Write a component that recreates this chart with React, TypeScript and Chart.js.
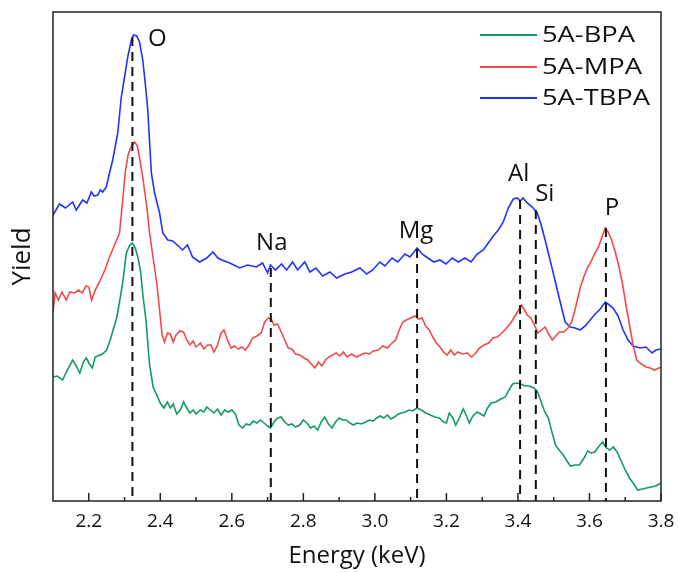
import React, { useEffect, useRef } from "react";
import { Chart, registerables } from "chart.js";

Chart.register(...registerables);

// ---- spectra (energy in keV, yield in arbitrary units) ----
const bpaEnergy = [
  2.1, 2.112, 2.127, 2.14, 2.155, 2.165, 2.175, 2.185, 2.193, 2.202, 2.21, 2.218, 2.225, 2.238, 2.25, 2.26, 2.268, 2.278,
  2.287, 2.296, 2.305, 2.315, 2.322, 2.33, 2.338, 2.345, 2.352, 2.36, 2.37, 2.38, 2.39, 2.4, 2.41, 2.42, 2.428, 2.436,
  2.446, 2.456, 2.465, 2.474, 2.483, 2.492, 2.5, 2.512, 2.522, 2.53, 2.54, 2.55, 2.56, 2.57, 2.58, 2.59, 2.6, 2.61, 2.62,
  2.63, 2.64, 2.65, 2.66, 2.67, 2.68, 2.69, 2.7, 2.708, 2.718, 2.728, 2.738, 2.748, 2.758, 2.768, 2.778, 2.79, 2.8, 2.81,
  2.82, 2.83, 2.84, 2.85, 2.86, 2.87, 2.88, 2.89, 2.9, 2.91, 2.92, 2.93, 2.94, 2.95, 2.962, 2.975, 2.985, 2.995, 3.005,
  3.015, 3.025, 3.035, 3.045, 3.055, 3.065, 3.075, 3.085, 3.095, 3.105, 3.118, 3.13, 3.142, 3.155, 3.168, 3.18, 3.192,
  3.2, 3.208, 3.218, 3.226, 3.236, 3.247, 3.255, 3.264, 3.274, 3.286, 3.296, 3.305, 3.315, 3.325, 3.338, 3.352, 3.365,
  3.375, 3.385, 3.396, 3.408, 3.42, 3.432, 3.445, 3.455, 3.465, 3.475, 3.485, 3.495, 3.505, 3.515, 3.525, 3.535, 3.547,
  3.56, 3.572, 3.585, 3.595, 3.605, 3.615, 3.627, 3.637, 3.647, 3.657, 3.667, 3.677, 3.69, 3.7, 3.712, 3.724, 3.735,
  3.748, 3.76, 3.772, 3.785, 3.8,
];
const bpaYield = [
  124, 125, 121, 131, 141, 135, 128, 139, 143, 137, 133, 144, 145, 147, 151, 161, 171, 183,
  201, 221, 248, 256, 258, 253, 243, 229, 204, 181, 136, 114, 106, 98, 93, 99, 93, 97,
  87, 91, 99, 93, 88, 91, 87, 91, 89, 94, 91, 88, 92, 86, 91, 89, 91, 87, 76,
  73, 77, 76, 80, 78, 81, 78, 75, 73, 79, 83, 84, 79, 76, 77, 74, 76, 81, 78,
  73, 75, 71, 79, 84, 77, 73, 79, 83, 81, 81, 78, 76, 78, 77, 79, 81, 80, 83,
  85, 83, 86, 82, 84, 87, 88, 89, 91, 90, 93, 91, 88, 86, 84, 83, 79,
  78, 88, 83, 76, 83, 92, 86, 78, 85, 89, 87, 85, 93, 98, 99, 102, 104,
  111, 117, 118, 117, 115, 115, 113, 109, 99, 89, 83, 69, 56, 51, 47, 41, 35,
  36, 36, 43, 50, 48, 49, 55, 59, 53, 51, 54, 49, 39, 31, 23, 17, 11,
  12, 13, 14, 15, 18,
];

const mpaEnergy = [
  2.1, 2.106, 2.115, 2.125, 2.137, 2.147, 2.16, 2.172, 2.182, 2.192, 2.2, 2.208, 2.218, 2.23, 2.245, 2.258, 2.272, 2.286,
  2.295, 2.302, 2.31, 2.318, 2.328, 2.336, 2.343, 2.35, 2.357, 2.364, 2.37, 2.38, 2.39, 2.398, 2.405, 2.412, 2.42, 2.428,
  2.436, 2.444, 2.455, 2.465, 2.474, 2.483, 2.492, 2.5, 2.512, 2.522, 2.532, 2.542, 2.55, 2.56, 2.57, 2.578, 2.588,
  2.598, 2.608, 2.618, 2.628, 2.638, 2.648, 2.658, 2.67, 2.682, 2.692, 2.702, 2.71, 2.718, 2.728, 2.738, 2.748, 2.758,
  2.768, 2.778, 2.79, 2.802, 2.812, 2.822, 2.832, 2.842, 2.852, 2.862, 2.872, 2.882, 2.892, 2.902, 2.912, 2.922, 2.935,
  2.948, 2.96, 2.972, 2.985, 2.995, 3.01, 3.022, 3.035, 3.045, 3.058, 3.068, 3.078, 3.088, 3.1, 3.112, 3.122, 3.132,
  3.142, 3.152, 3.162, 3.172, 3.182, 3.192, 3.202, 3.212, 3.222, 3.232, 3.245, 3.258, 3.27, 3.28, 3.292, 3.305, 3.318,
  3.33, 3.342, 3.355, 3.368, 3.38, 3.392, 3.402, 3.41, 3.418, 3.426, 3.436, 3.446, 3.456, 3.466, 3.476, 3.486, 3.496,
  3.506, 3.516, 3.528, 3.54, 3.55, 3.558, 3.566, 3.574, 3.584, 3.594, 3.604, 3.614, 3.624, 3.634, 3.644, 3.652, 3.662,
  3.672, 3.682, 3.692, 3.702, 3.712, 3.722, 3.732, 3.745, 3.758, 3.77, 3.782, 3.8,
];
const mpaYield = [
  189, 208, 201, 209, 201, 209, 208, 211, 208, 215, 214, 201, 211, 219, 231, 244, 256, 268,
  301, 329, 346, 354, 359, 355, 341, 326, 308, 289, 268, 243, 218, 191, 166, 159, 168, 167,
  159, 166, 170, 169, 161, 156, 160, 154, 158, 152, 156, 156, 149, 156, 168, 171, 161,
  153, 155, 152, 154, 151, 156, 163, 165, 168, 179, 183, 182, 176, 177, 169, 161, 153,
  152, 147, 146, 143, 141, 137, 133, 139, 135, 141, 144, 146, 148, 145, 149, 144, 147,
  144, 146, 148, 147, 150, 151, 155, 153, 157, 161, 171, 179, 181, 183, 185, 182, 183,
  175, 171, 164, 158, 154, 149, 146, 151, 146, 149, 147, 148, 144, 147, 153, 156, 158,
  163, 164, 168, 173, 178, 185, 191, 196, 191, 186, 183, 176, 168, 171, 174, 167, 161,
  165, 169, 169, 173, 179, 189, 201, 213, 224, 233, 239, 247, 253, 263, 273, 269, 261,
  249, 235, 218, 196, 176, 156, 141, 137, 134, 133, 131, 134,
];

const tbpaEnergy = [
  2.1, 2.118, 2.135, 2.155, 2.165, 2.183, 2.195, 2.207, 2.215, 2.225, 2.232, 2.239, 2.249, 2.258, 2.267, 2.281, 2.286,
  2.291, 2.3, 2.309, 2.319, 2.325, 2.334, 2.342, 2.351, 2.359, 2.365, 2.375, 2.384, 2.398, 2.407, 2.421, 2.435, 2.462,
  2.476, 2.49, 2.51, 2.53, 2.547, 2.561, 2.572, 2.594, 2.622, 2.644, 2.669, 2.686, 2.7, 2.708, 2.722, 2.739, 2.753,
  2.77, 2.784, 2.804, 2.818, 2.835, 2.854, 2.874, 2.893, 2.916, 2.935, 2.958, 2.977, 2.994, 3.014, 3.028, 3.048, 3.064,
  3.084, 3.098, 3.118, 3.132, 3.148, 3.165, 3.182, 3.199, 3.216, 3.233, 3.252, 3.269, 3.286, 3.303, 3.317, 3.331,
  3.345, 3.359, 3.373, 3.387, 3.398, 3.406, 3.414, 3.426, 3.44, 3.454, 3.465, 3.476, 3.487, 3.498, 3.51, 3.521, 3.532,
  3.546, 3.56, 3.574, 3.588, 3.602, 3.616, 3.63, 3.644, 3.652, 3.666, 3.68, 3.694, 3.708, 3.722, 3.742, 3.758, 3.775,
  3.786, 3.8,
];
const tbpaYield = [
  286, 297, 293, 299, 291, 301, 298, 309, 305, 306, 311, 309, 314, 328, 341, 368, 386,
  404, 424, 444, 461, 466, 465, 459, 441, 414, 391, 328, 308, 288, 268, 261, 260, 251,
  256, 244, 239, 243, 249, 243, 241, 238, 233, 236, 234, 238, 228, 236, 231, 237, 231,
  239, 231, 239, 229, 233, 225, 229, 223, 227, 229, 233, 227, 231, 239, 235, 243, 239,
  247, 244, 253, 247, 243, 239, 241, 237, 243, 239, 243, 239, 247, 251, 258, 265,
  271, 279, 293, 302, 303, 300, 303, 298, 294, 288, 276, 261, 245, 229, 211, 195, 179,
  174, 173, 171, 175, 181, 187, 192, 199, 197, 193, 185, 171, 161, 155, 153, 154, 148,
  151, 152,
];

const seriesNames = ["5A-BPA", "5A-MPA", "5A-TBPA"];
const seriesColors = ["#149a62", "#f24a4a", "#2233ff"];

// ---- element lines: position and the yield where each dashed line starts ----
const elementNames = ["O", "Na", "Mg", "Al", "Si", "P"];
const elementEnergy = [2.322, 2.709, 3.118, 3.406, 3.45, 3.646];
const elementTop = [464, 233, 252, 301, 291, 273];
// label placement relative to the top of each line (px)
const elementLabelOffset = [
  [25, 0],
  [1, -27],
  [-1, -20],
  [-1.5, -28],
  [9, -18],
  [6, -22],
];

const energyTicks = [2.2, 2.4, 2.6, 2.8, 3.0, 3.2, 3.4, 3.6, 3.8];
const energyMinorTicks = [2.3, 2.5, 2.7, 2.9, 3.1, 3.3, 3.5, 3.7];

const FONT = "'Open Sans', 'DejaVu Sans', sans-serif";

const decorations = {
  id: "spectrumDecorations",
  afterDatasetsDraw(chart: any) {
    const { ctx, chartArea, scales } = chart;
    const xs = scales.x;
    const ys = scales.y;
    const { left, right, top, bottom } = chartArea;
    ctx.save();

    // element marker lines
    ctx.strokeStyle = "#111";
    ctx.lineWidth = 2;
    ctx.setLineDash([9, 6]);
    elementEnergy.forEach((e, i) => {
      const px = xs.getPixelForValue(e);
      const py = ys.getPixelForValue(elementTop[i]);
      ctx.beginPath();
      ctx.moveTo(px, py);
      ctx.lineTo(px, bottom);
      ctx.stroke();
    });
    ctx.setLineDash([]);

    // element labels
    ctx.fillStyle = "#111";
    ctx.font = `24px ${FONT}`;
    ctx.textAlign = "center";
    ctx.textBaseline = "alphabetic";
    elementNames.forEach((name, i) => {
      const px = xs.getPixelForValue(elementEnergy[i]) + elementLabelOffset[i][0];
      const py = ys.getPixelForValue(elementTop[i]) + elementLabelOffset[i][1];
      ctx.fillText(name, px, py + 0.357 * 24);
    });

    // inward ticks on the energy axis
    ctx.strokeStyle = "#222";
    ctx.lineWidth = 1.5;
    ctx.beginPath();
    energyTicks.forEach((v) => {
      const px = xs.getPixelForValue(v);
      ctx.moveTo(px, bottom);
      ctx.lineTo(px, bottom - 8);
    });
    energyMinorTicks.forEach((v) => {
      const px = xs.getPixelForValue(v);
      ctx.moveTo(px, bottom);
      ctx.lineTo(px, bottom - 4);
    });
    ctx.stroke();

    // frame
    ctx.strokeStyle = "#222";
    ctx.lineWidth = 1.5;
    ctx.strokeRect(left, top, right - left, bottom - top);

    // legend
    const legendX0 = right - 181;
    const legendX1 = right - 124;
    const rowY = [top + 23, top + 55, top + 86];
    seriesNames.forEach((name, i) => {
      ctx.strokeStyle = seriesColors[i];
      ctx.lineWidth = 2;
      ctx.beginPath();
      ctx.moveTo(legendX0, rowY[i]);
      ctx.lineTo(legendX1, rowY[i]);
      ctx.stroke();
      ctx.save();
      ctx.translate(legendX1 + 5, rowY[i] + 0.357 * 21);
      ctx.scale(1.3, 1);
      ctx.fillStyle = "#111";
      ctx.font = `21px ${FONT}`;
      ctx.textAlign = "left";
      ctx.textBaseline = "alphabetic";
      ctx.fillText(name, 0, 0);
      ctx.restore();
    });

    ctx.restore();
  },
};

export default function App() {
  const canvasRef = useRef<HTMLCanvasElement | null>(null);

  useEffect(() => {
    if (!canvasRef.current) return;
    const energies = [bpaEnergy, mpaEnergy, tbpaEnergy];
    const yields = [bpaYield, mpaYield, tbpaYield];
    const chart = new Chart(canvasRef.current, {
      type: "line",
      data: {
        datasets: seriesNames.map((name, s) => ({
          label: name,
          data: energies[s].map((e, i) => ({ x: e, y: yields[s][i] })),
          borderColor: seriesColors[s],
          backgroundColor: seriesColors[s],
          borderWidth: 1.6,
          pointRadius: 0,
          tension: 0,
          fill: false,
        })),
      },
      options: {
        animation: false,
        responsive: true,
        maintainAspectRatio: false,
        layout: { padding: { top: 12, right: 17, left: 0, bottom: 0 } },
        plugins: {
          legend: { display: false },
          tooltip: { enabled: false },
        },
        scales: {
          x: {
            type: "linear",
            min: 2.1,
            max: 3.8,
            grid: { display: false, drawTicks: false },
            border: { display: false },
            afterBuildTicks: (scale: any) => {
              scale.ticks = energyTicks.map((v) => ({ value: v }));
            },
            afterFit: (scale: any) => {
              scale.height = 72;
              scale.paddingLeft = 0;
              scale.paddingRight = 0;
            },
            ticks: {
              autoSkip: false,
              maxRotation: 0,
              padding: 9,
              color: "#111",
              font: { family: FONT, size: 19 },
              callback: (v: any) => Number(v).toFixed(1),
            },
            title: {
              display: true,
              text: "Energy (keV)",
              color: "#111",
              font: { family: FONT, size: 24 },
              padding: { top: 0, bottom: 2 },
            },
          },
          y: {
            type: "linear",
            min: 0,
            max: 489,
            grid: { display: false, drawTicks: false },
            border: { display: false },
            ticks: { display: false },
            afterFit: (scale: any) => {
              scale.width = 53;
            },
            title: {
              display: true,
              text: "Yield",
              color: "#111",
              font: { family: FONT, size: 26 },
              padding: { top: 7, bottom: 0 },
            },
          },
        },
      },
      plugins: [decorations],
    });
    return () => chart.destroy();
  }, []);

  return (
    <div style={{ position: "absolute", left: 0, top: 0, width: 678, height: 573, background: "#fff" }}>
      <canvas ref={canvasRef} />
    </div>
  );
}
